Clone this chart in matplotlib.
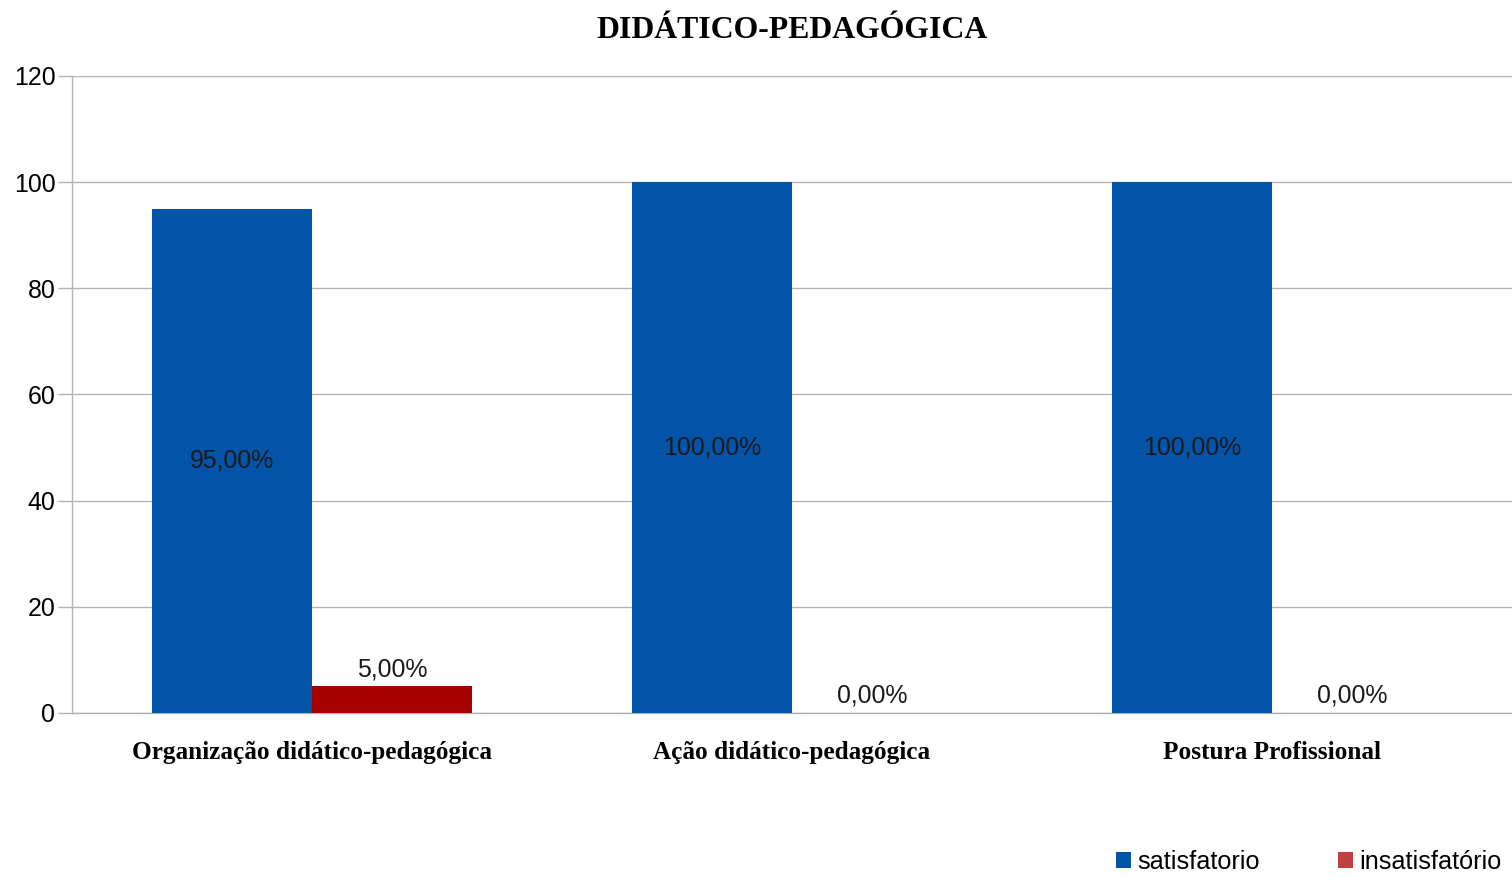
import matplotlib
matplotlib.use("Agg")
import matplotlib.pyplot as plt
from matplotlib.patches import Patch
import numpy as np

categories = ["Organização didático-pedagógica", "Ação didático-pedagógica", "Postura Profissional"]
satisfatorio = [95, 100, 100]
insatisfatorio = [5, 0, 0]
sat_labels = ["95,00%", "100,00%", "100,00%"]
insat_labels = ["5,00%", "0,00%", "0,00%"]
yticks = [0, 20, 40, 60, 80, 100, 120]

W, H = 1512, 877
fig = plt.figure(figsize=(W / 100, H / 100), dpi=100)
ax = fig.add_axes([72 / W, 1 - 713 / H, (W - 72) / W, (713 - 76) / H])

x = np.arange(len(categories))
bw = 1 / 3
blue = "#0353a8"
red = "#a80000"
ax.bar(x - bw / 2, satisfatorio, width=bw, color=blue, zorder=3)
ax.bar(x + bw / 2, insatisfatorio, width=bw, color=red, zorder=3)

fs = 17.9
for xi, v, lab in zip(x, satisfatorio, sat_labels):
    ax.text(xi - bw / 2, v / 2, lab, ha="center", va="center", fontsize=fs,
            family="Liberation Sans", color="#1a1a1a", zorder=4)
for xi, v, lab in zip(x, insatisfatorio, insat_labels):
    ax.text(xi + bw / 2, v + 1.0, lab, ha="center", va="bottom", fontsize=fs,
            family="Liberation Sans", color="#1a1a1a", zorder=4)

ax.set_xlim(-0.5, 2.5)
ax.set_ylim(0, 120)
ax.set_yticks(yticks)
ax.set_yticklabels([str(t) for t in yticks], fontsize=fs, family="Liberation Sans")
ax.grid(axis="y", color="#b3b3b3", linewidth=1, zorder=0)
ax.set_xticks(x)
ax.set_xticklabels(categories, fontsize=18.2, family="Liberation Serif", fontweight="bold")
ax.tick_params(axis="x", length=0, pad=20.5)
ax.tick_params(axis="y", length=10, color="#b3b3b3", width=1, pad=2)
for s in ["top", "right"]:
    ax.spines[s].set_visible(False)
for s in ["left", "bottom"]:
    ax.spines[s].set_color("#b3b3b3")
    ax.spines[s].set_linewidth(1)

fig.text((72 + W) / 2 / W, 1 - 30 / H, "DIDÁTICO-PEDAGÓGICA", ha="center", va="center",
         fontsize=22.9, family="Liberation Serif", fontweight="bold")

handles = [Patch(facecolor=blue, edgecolor="none"), Patch(facecolor="#c04040", edgecolor="none")]
fig.legend(handles, ["satisfatorio", "insatisfatório"], loc="center right",
           bbox_to_anchor=(1.0, 1 - 862 / H), ncol=2, frameon=False,
           prop={"family": "Liberation Sans", "size": 18.2}, handlelength=0.6,
           handleheight=0.6, handletextpad=0.25, columnspacing=3.1, borderaxespad=0.0)

fig.savefig("out.png", dpi=100)
